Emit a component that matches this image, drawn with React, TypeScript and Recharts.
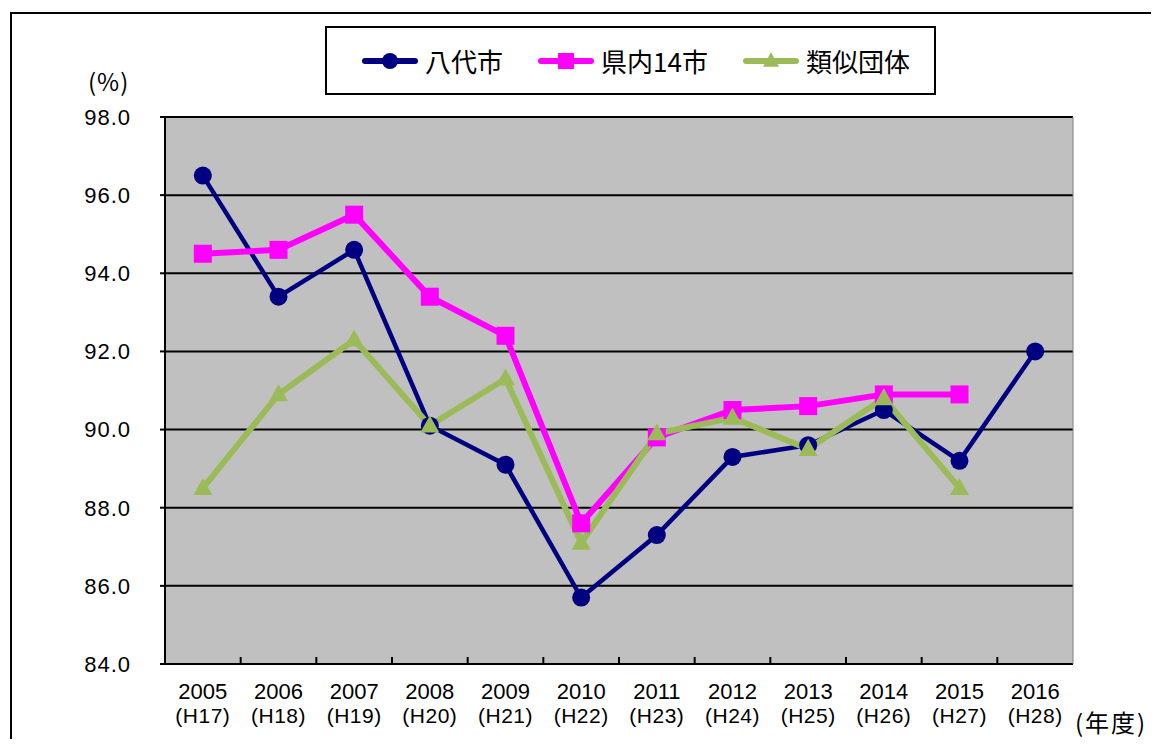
import { CartesianGrid, Legend, Line, LineChart, XAxis, YAxis } from "recharts";

const years = ["2005", "2006", "2007", "2008", "2009", "2010", "2011", "2012", "2013", "2014", "2015", "2016"];
const eras = ["H17", "H18", "H19", "H20", "H21", "H22", "H23", "H24", "H25", "H26", "H27", "H28"];
const yatsushiro = [96.5, 93.4, 94.6, 90.1, 89.1, 85.7, 87.3, 89.3, 89.6, 90.5, 89.2, 92.0];
const kennai = [94.5, 94.6, 95.5, 93.4, 92.4, 87.6, 89.8, 90.5, 90.6, 90.9, 90.9, null];
const ruiji = [88.5, 90.9, 92.3, 90.1, 91.3, 87.1, 89.9, 90.3, 89.5, 90.8, 88.5, null];
const yTicks = [84, 86, 88, 90, 92, 94, 96, 98];

const data = years.map((year, i) => ({
	year,
	yatsushiro: yatsushiro[i],
	kennai: kennai[i],
	ruiji: ruiji[i],
}));

const W = 1159;
const H = 747;
const LEFT = 165;
const RIGHT = 86;
const STEP = (W - LEFT - RIGHT) / years.length;

const NAVY = "#000080";
const MAGENTA = "#FF00FF";
const GREEN = "#9BBB59";
const CJK = "'Noto Sans CJK JP', sans-serif";
const SANS = "'Liberation Sans', Arial, sans-serif";

const marker = (key: string, cx: number, cy: number, size: number) => {
	if (key === "yatsushiro") return <circle cx={cx} cy={cy} r={size / 2} fill={NAVY} />;
	if (key === "kennai")
		return <rect x={cx - size / 2} y={cy - size / 2} width={size} height={size} fill={MAGENTA} />;
	const h = size * 0.9;
	return (
		<polygon
			points={`${cx},${cy - h * 0.6} ${cx + size / 2},${cy + h * 0.4} ${cx - size / 2},${cy + h * 0.4}`}
			fill={GREEN}
		/>
	);
};

const makeDot = (key: string, size: number) => (p: any) => {
	if (p.value == null || p.cy == null) return <g key={`${key}${p.index}`} />;
	return <g key={`${key}${p.index}`}>{marker(key, p.cx, p.cy, size)}</g>;
};

const XTick = (props: any) => {
	const { x, y, payload, index } = props;
	return (
		<g>
			{index > 0 && (
				<line x1={x - STEP / 2} x2={x - STEP / 2} y1={y} y2={y - 7} stroke="#000" strokeWidth={2} />
			)}
			<text x={x} y={y + 35} textAnchor="middle" fill="#000" fontSize={22} fontFamily={SANS}>
				{payload.value}
			</text>
			<text x={x} y={y + 59} textAnchor="middle" fill="#000" fontSize={21} fontFamily={SANS} letterSpacing={0.5}>
				({eras[index]})
			</text>
		</g>
	);
};

const LegendBox = (props: any) => {
	const items = props.payload || [];
	return (
		<div
			style={{
				width: 611,
				height: 69,
				boxSizing: "border-box",
				border: "2px solid #000",
				background: "#fff",
				display: "flex",
				alignItems: "center",
				paddingLeft: 34,
				gap: 34,
				fontFamily: CJK,
				fontSize: 26,
				color: "#000",
			}}
		>
			{items.map((it: any) => (
				<div key={it.dataKey} style={{ display: "flex", alignItems: "center", gap: 6 }}>
					<svg width={58} height={20}>
						<line x1={4} x2={54} y1={10} y2={10} stroke={it.color} strokeWidth={6} strokeLinecap="round" />
						{marker(it.dataKey, 29, 10, 16)}
					</svg>
					<span style={{ lineHeight: "30px" }}>{it.value}</span>
				</div>
			))}
		</div>
	);
};

export default function App() {
	return (
		<div style={{ position: "relative", width: W, height: H, margin: -8, background: "#fff", overflow: "hidden" }}>
			<div
				style={{
					position: "absolute",
					left: 10,
					top: 12,
					width: 1300,
					height: 900,
					borderLeft: "2px solid #000",
					borderTop: "2px solid #000",
				}}
			/>
			<div
				style={{
					position: "absolute",
					left: 88,
					top: 66,
					fontFamily: CJK,
					fontSize: 24,
					lineHeight: "30px",
					letterSpacing: 1,
					color: "#000",
				}}
			>
				(%)
			</div>
			<div
				style={{
					position: "absolute",
					left: 1075,
					top: 707,
					fontFamily: CJK,
					fontSize: 24,
					lineHeight: "30px",
					letterSpacing: 2,
					color: "#000",
				}}
			>
				(年度)
			</div>
			<div style={{ position: "absolute", left: 0, top: 0 }}>
				<LineChart width={W} height={H} data={data} margin={{ top: 117, right: 0, bottom: 0, left: 0 }}>
					<CartesianGrid yAxisId="l" vertical={false} fill="#C0C0C0" fillOpacity={1} stroke="#000" strokeWidth={2} />
					<XAxis
						dataKey="year"
						scale="band"
						height={83}
						axisLine={{ stroke: "#000", strokeWidth: 2 }}
						tickLine={false}
						tickSize={0}
						tickMargin={0}
						interval={0}
						tick={<XTick />}
					/>
					<YAxis
						yAxisId="l"
						width={LEFT}
						domain={[84, 98]}
						ticks={yTicks}
						interval={0}
						axisLine={{ stroke: "#000", strokeWidth: 2 }}
						tickLine={{ stroke: "#000", strokeWidth: 2 }}
						tickSize={5}
						tickMargin={29}
						tickFormatter={(v: number) => v.toFixed(1)}
						tick={{ fill: "#000", fontSize: 22, fontFamily: SANS, letterSpacing: 1 }}
					/>
					<YAxis
						yAxisId="r"
						orientation="right"
						width={RIGHT}
						domain={[84, 98]}
						tick={false}
						tickLine={false}
						axisLine={{ stroke: "#808080", strokeWidth: 1 }}
					/>
					<Legend
						layout="vertical"
						align="center"
						verticalAlign="middle"
						wrapperStyle={{ top: 26, left: 325, width: 611, height: 69 }}
						content={<LegendBox />}
					/>
					<Line
						yAxisId="l"
						dataKey="yatsushiro"
						name="八代市"
						stroke={NAVY}
						strokeWidth={4.5}
						dot={makeDot("yatsushiro", 18)}
						activeDot={false}
						isAnimationActive={false}
					/>
					<Line
						yAxisId="l"
						dataKey="kennai"
						name="県内14市"
						stroke={MAGENTA}
						strokeWidth={6}
						dot={makeDot("kennai", 18)}
						activeDot={false}
						isAnimationActive={false}
					/>
					<Line
						yAxisId="l"
						dataKey="ruiji"
						name="類似団体"
						stroke={GREEN}
						strokeWidth={6}
						dot={makeDot("ruiji", 19)}
						activeDot={false}
						isAnimationActive={false}
					/>
				</LineChart>
			</div>
		</div>
	);
}
